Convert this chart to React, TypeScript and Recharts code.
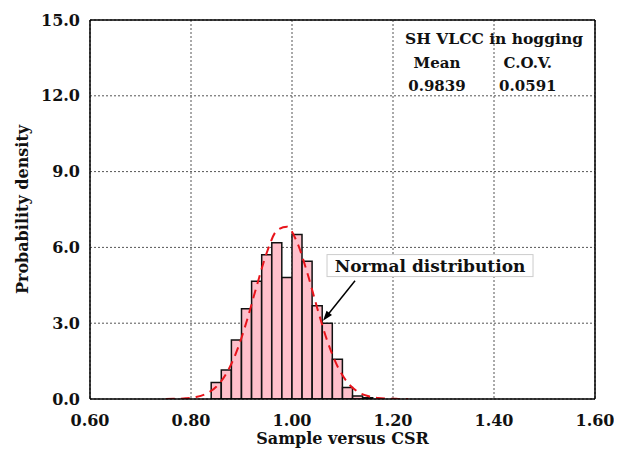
import {
  ComposedChart,
  Bar,
  Line,
  XAxis,
  YAxis,
  CartesianGrid,
  ReferenceLine,
  ReferenceDot,
} from "recharts";

// histogram bins (centre of each 0.02 bin) and their density
const binCenters = [
  0.85, 0.87, 0.89, 0.91, 0.93, 0.95, 0.97, 0.99, 1.01, 1.03, 1.05, 1.07, 1.09,
  1.11, 1.13, 1.15,
];
const binDensity = [
  0.65, 1.15, 2.34, 3.57, 4.66, 5.71, 6.18, 4.81, 6.51, 5.45, 3.69, 3.0, 1.57,
  0.46, 0.12, 0.05,
];

// fitted normal curve (same 0.02 spacing)
const curveX = [
  0.75, 0.77, 0.79, 0.81, 0.83, 0.85, 0.87, 0.89, 0.91, 0.93, 0.95, 0.97, 0.99,
  1.01, 1.03, 1.05, 1.07, 1.09, 1.11, 1.13, 1.15, 1.17, 1.19, 1.21, 1.23,
];
const curveDensity = [
  0.002, 0.008, 0.026, 0.078, 0.207, 0.484, 1.008, 1.862, 3.058, 4.464, 5.788,
  6.667, 6.822, 6.203, 5.011, 3.595, 2.292, 1.298, 0.653, 0.292, 0.116, 0.041,
  0.013, 0.004, 0.001,
];

const xTicks = [0.6, 0.8, 1.0, 1.2, 1.4, 1.6];
const yTicks = [0, 3, 6, 9, 12, 15];
const caseName = "SH VLCC in hogging";
const meanValue = "0.9839";
const covValue = "0.0591";

const key = (x: number) => Math.round(x * 100);
const data = curveX.map((x, i) => {
  const bi = binCenters.findIndex((c) => key(c) === key(x));
  return { x, curve: curveDensity[i], density: bi >= 0 ? binDensity[bi] : null };
});

const FONT = '"DejaVu Serif", serif';

const Arrow = (p: any) => {
  const { x1, y1, x2, y2 } = p;
  const dx = x2 - x1;
  const dy = y2 - y1;
  const len = Math.hypot(dx, dy) || 1;
  const ux = dx / len;
  const uy = dy / len;
  const bx = x2 - 10 * ux;
  const by = y2 - 10 * uy;
  const pts = `${x2},${y2} ${bx - 3.5 * uy},${by + 3.5 * ux} ${bx + 3.5 * uy},${by - 3.5 * ux}`;
  return (
    <g>
      <line x1={x1} y1={y1} x2={bx + 2 * ux} y2={by + 2 * uy} stroke="#000" strokeWidth={1.5} />
      <polygon points={pts} fill="#000" />
    </g>
  );
};

const note =
  (text: string, size: number, box?: boolean) =>
  (p: any) => (
    <g>
      {box && (
        <rect x={p.cx - 103} y={p.cy - 11} width={206} height={22} fill="#fff" stroke="#ccc" />
      )}
      <text
        x={p.cx}
        y={p.cy}
        textAnchor="middle"
        dominantBaseline="central"
        fontFamily={FONT}
        fontWeight="bold"
        fontSize={size}
        fill="#111"
      >
        {text}
      </text>
    </g>
  );

const YTitle = (p: any) => {
  const vb = p.viewBox;
  const cx = 14;
  const cy = vb.y + vb.height / 2;
  return (
    <text
      x={cx}
      y={cy}
      transform={`rotate(-90 ${cx} ${cy})`}
      textAnchor="middle"
      dominantBaseline="central"
      fontFamily={FONT}
      fontWeight="bold"
      fontSize={16}
      fill="#111"
    >
      Probability density
    </text>
  );
};

const tickStyle = { fontFamily: FONT, fontWeight: "bold", fontSize: 16, fill: "#111" };

export default function App() {
  return (
    <ComposedChart
      width={606}
      height={440}
      data={data}
      margin={{ top: 12, right: 19, left: 22, bottom: 0 }}
      barCategoryGap={0}
      barGap={0}
    >
      <CartesianGrid stroke="#555" strokeDasharray="2 2" />
      <XAxis
        dataKey="x"
        type="number"
        domain={[0.6, 1.6]}
        ticks={xTicks}
        tickFormatter={(v: number) => v.toFixed(2)}
        tick={tickStyle}
        tickLine={false}
        tickMargin={10}
        height={49}
        stroke="#000"
        strokeWidth={1.5}
        allowDataOverflow
        label={{
          value: "Sample versus CSR",
          position: "insideBottom",
          offset: 4,
          style: { fontFamily: FONT, fontWeight: "bold", fontSize: 16, fill: "#111" },
        }}
      />
      <YAxis
        type="number"
        domain={[0, 15]}
        ticks={yTicks}
        tickFormatter={(v: number) => v.toFixed(1)}
        tick={tickStyle}
        tickLine={false}
        tickMargin={4}
        width={60}
        stroke="#000"
        strokeWidth={1.5}
        allowDataOverflow
        label={<YTitle />}
      />
      <ReferenceLine y={15} stroke="#000" strokeWidth={1.5} />
      <ReferenceLine x={1.6} stroke="#000" strokeWidth={1.5} />
      <Bar
        dataKey="density"
        fill="#ffc0cb"
        stroke="#111"
        strokeWidth={1.5}
        isAnimationActive={false}
      />
      <Line
        dataKey="curve"
        type="monotone"
        stroke="#e8141b"
        strokeWidth={2}
        strokeDasharray="9 6"
        dot={false}
        activeDot={false}
        isAnimationActive={false}
      />
      <ReferenceLine
        segment={[
          { x: 1.1248, y: 4.68 },
          { x: 1.0614, y: 3.1 },
        ]}
        shape={Arrow}
        ifOverflow="visible"
      />
      <ReferenceDot x={1.2733} y={5.28} shape={note("Normal distribution", 17, true)} ifOverflow="visible" />
      <ReferenceDot x={1.4} y={14.25} shape={note(caseName, 15.5)} ifOverflow="visible" />
      <ReferenceDot x={1.287} y={13.29} shape={note("Mean", 15)} ifOverflow="visible" />
      <ReferenceDot x={1.467} y={13.29} shape={note("C.O.V.", 15)} ifOverflow="visible" />
      <ReferenceDot x={1.287} y={12.38} shape={note(meanValue, 15)} ifOverflow="visible" />
      <ReferenceDot x={1.467} y={12.38} shape={note(covValue, 15)} ifOverflow="visible" />
    </ComposedChart>
  );
}
